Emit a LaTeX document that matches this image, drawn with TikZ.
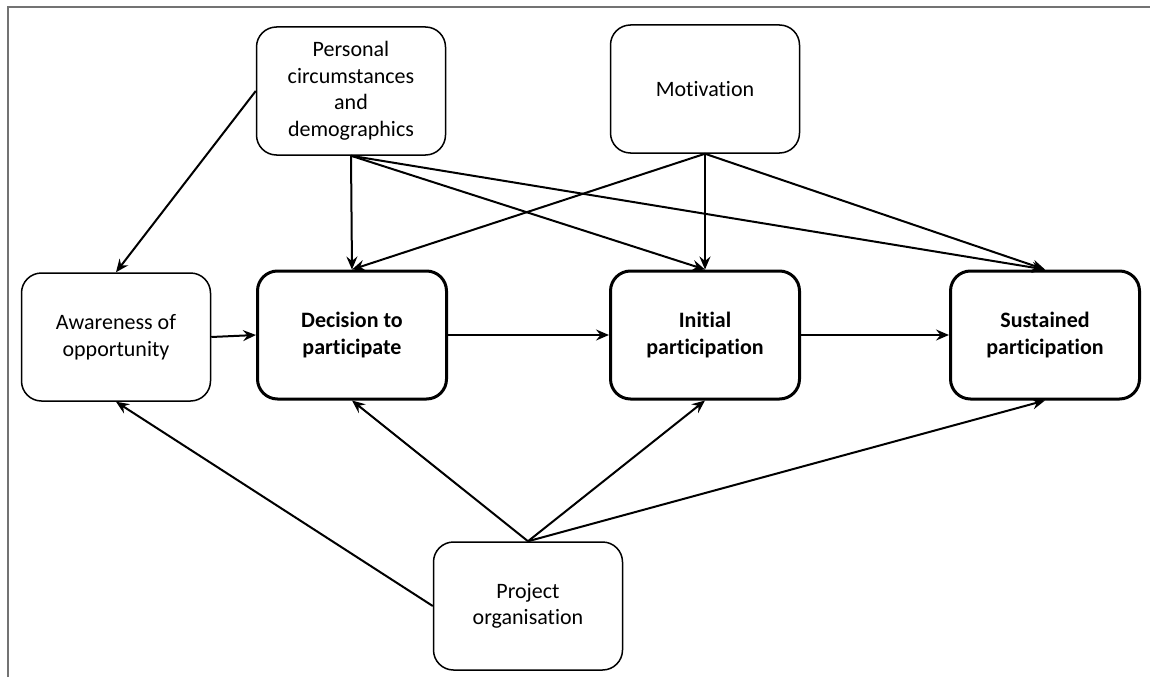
\documentclass[tikz,border=0pt]{standalone}
\usepackage{fontspec}
\setmainfont[Ligatures=NoCommon]{Carlito}
\usetikzlibrary{arrows.meta}
\begin{document}
\begin{tikzpicture}[x=1pt,y=1pt,
  box/.style={draw=black, line width=1.5pt, rounded corners=20pt, minimum width=189pt, minimum height=128pt, inner sep=0pt, align=center, font=\fontsize{22}{26.5}\selectfont},
  mainbox/.style={box, line width=3pt, font=\fontsize{22}{26.5}\selectfont\bfseries},
  arr/.style={line width=2pt, -{Stealth[length=13pt,width=11pt,inset=4.5pt]}}]
\useasboundingbox (0,0) rectangle (1150,-677);
\draw[line width=1.2pt, black!55] (8,-677) -- (8,-7) -- (1150,-7);
\node[box] (pers) at (351,-91) {Personal\\circumstances\\and\\demographics};
\node[box] (mot) at (705,-89) {Motivation};
\node[box] (aw) at (116,-337) {Awareness of\\opportunity};
\node[mainbox] (dec) at (352,-335) {Decision to\\participate};
\node[mainbox] (ini) at (705,-335) {Initial\\participation};
\node[mainbox] (sus) at (1045,-335) {Sustained\\participation};
\node[box] (proj) at (528,-606) {Project\\organisation};
\draw[arr] (pers.west) -- (aw.north);
\draw[arr] (pers.south) -- (dec.north);
\draw[arr] (pers.south) -- (ini.north);
\draw[arr] (pers.south) -- (sus.north);
\draw[arr] (mot.south) -- (dec.north);
\draw[arr] (mot.south) -- (ini.north);
\draw[arr] (mot.south) -- (sus.north);
\draw[arr] (aw.east) -- (dec.west);
\draw[arr] (dec.east) -- (ini.west);
\draw[arr] (ini.east) -- (sus.west);
\draw[arr] (proj.north) -- (dec.south);
\draw[arr] (proj.north) -- (ini.south);
\draw[arr] (proj.north) -- (sus.south);
\draw[arr] (proj.west) -- (aw.south);
\end{tikzpicture}
\end{document}
